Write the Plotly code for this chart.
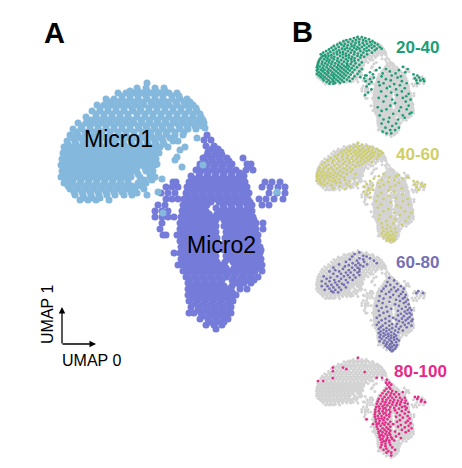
import plotly.graph_objects as go

# Every row: (UMAP y reading, [UMAP x readings]).
MICRO1_ROWS = [
 (83,[147]),(88,[137,146,155,164]),(93,[118,126,134,142,151,160,169,177]),
 (99,[106,114,122,130,138,147,155,163,172,180,187]),
 (105,[97,104,112,120,128,136,144,153,161,169,177,185,193]),
 (111,[92,100,108,116,124,133,141,149,157,165,173,181,189,197]),
 (117,[86,96,104,112,120,128,137,145,153,161,169,177,185,193,201]),
 (123,[78,86,94,102,110,118,126,134,142,150,158,166,175,183,191,199,204]),
 (129,[73,81,90,98,106,114,122,130,139,147,155,163,171,180,188,196]),
 (135,[70,78,86,94,102,110,118,126,134,142,150,158,166,175,183]),
 (141,[67,75,83,91,99,107,115,123,131,139,147,155,163,173,178]),
 (147,[64,72,80,88,96,104,112,120,128,136,144,152,160,168]),
 (153,[63,71,79,87,95,103,111,119,127,135,143,151,159]),
 (159,[62,70,78,86,94,102,110,118,126,134,142,150,156]),
 (165,[61,69,77,85,93,101,109,117,125,133,141,149,155]),
 (171,[62,70,78,86,94,102,110,118,126,134,146,153]),
 (177,[61,69,77,85,93,101,109,117,125,131,140,150,155]),
 (183,[64,72,80,88,96,104,112,120,128,138,146]),
 (189,[70,78,86,94,102,110,118,127,135,144]),
 (195,[75,83,91,99,107,115,124,132]),
 (200,[80,88,96,109]),
 (91,[130,138,147,156,165]),(96,[122,130,138,146,155,163,172,179]),
 (102,[110,118,126,134,142,151,159,167,176,184,190]),
 (108,[100,108,116,124,132,140,149,157,165,173,181,189,196]),
 (114,[96,104,112,120,128,137,145,153,161,169,177,185,193,200]),
 (120,[91,100,108,116,124,132,141,149,157,165,173,181,189,197,203]),
 (126,[82,90,98,106,114,122,130,138,146,154,162,170,179,187,195,202]),
 (132,[76,85,94,102,110,118,126,134,143,151,159,167,175,184]),
 (138,[73,81,89,97,105,113,121,129,137,145,153,161,170]),
 (144,[68,76,84,92,100,108,116,124,132,140,148,156,164]),
 (150,[68,76,84,92,100,108,116,124,132,140,148,156]),
 (156,[66,74,82,90,98,106,114,122,130,138,146,154]),
 (162,[65,73,81,89,97,105,113,121,129,137,145,152]),
 (168,[65,73,81,89,97,105,113,121,129,137,145,151]),
 (174,[65,73,81,89,97,105,113,121,129,138,150]),
 (180,[66,73,81,89,97,105,113,121,128,144,152]),
 (186,[68,76,84,92,100,108,116,124,132,141]),
 (192,[74,82,90,98,106,114,122,131]),(198,[84,92,100]),
]
MICRO1_STRAY_X = [137,147,162,157,182,175,180,185,197,205,177,158,163,203,277]
MICRO1_STRAY_Y = [193,195,179,164,167,160,150,147,138,128,157,192,213,165,192]

MICRO2_ROWS = [
 (135,[207]),(140,[204,211]),(146,[206,214]),(152,[208,216,221]),
 (158,[203,211,219,227,243]),(164,[200,208,216,224,232,247,251]),
 (170,[196,204,212,220,228,236,246,253]),
 (176,[191,199,207,215,223,231,239,244]),
 (182,[173,176,189,197,205,213,221,229,237,245,265,272,280]),
 (187,[166,172,178,187,195,203,211,219,227,235,243,247,262,270,278,285]),
 (193,[161,168,175,186,194,202,210,218,226,234,242,249,269,277,285]),
 (199,[166,172,178,184,192,200,208,216,224,232,240,248,259,266,274,283]),
 (205,[158,165,183,191,199,207,223,231,239,247,252,262,269]),
 (211,[155,162,168,182,190,198,206,220,228,236,244,252]),
 (217,[155,162,168,174,181,189,197,205,213,221,229,237,245,253]),
 (223,[162,180,188,196,204,212,228,236,244,252,256,263]),
 (229,[160,180,188,196,204,212,228,236,244,252,256,263]),
 (235,[163,166,177,181,189,197,205,213,229,237,245,253,258]),
 (241,[180,188,196,204,212,228,236,244,252,258]),
 (247,[181,189,197,205,213,221,229,237,245,253,260]),
 (253,[174,180,188,196,204,212,228,236,244,252,260]),
 (259,[181,189,197,205,213,229,237,245,253,261]),
 (265,[178,182,190,198,206,214,222,238,246,254,262]),
 (271,[183,191,199,207,215,223,231,239,247,255,262]),
 (277,[186,194,202,210,218,226,234,242,250,258]),
 (283,[188,196,204,212,220,236,244,251]),
 (289,[188,196,204,212,220,228,240,247]),
 (295,[188,196,204,212,220,228,236]),
 (301,[189,197,205,213,221,229,233]),
 (307,[191,199,207,215,223,231]),
 (313,[189,194,201,209,217,225,231]),
 (319,[200,208,216,224,228]),
 (325,[206,214,222]),(329,[216]),
 (149,[212,218]),(155,[207,214,222]),(161,[205,213,221,229]),
 (167,[200,206,214,222,230,249]),(173,[200,208,216,224,232,240]),
 (179,[194,202,210,218,226,234,242]),(185,[192,200,208,216,224,232,240]),
 (190,[190,198,206,214,222,230,238,246]),(196,[188,196,204,212,220,228,236,244]),
 (202,[187,195,203,211,219,227,235,243,250]),(208,[186,194,202,216,224,232,240,248]),
 (214,[185,193,201,209,217,225,233,241,249]),
 (220,[184,192,200,208,216,224,232,240,248,254]),
 (226,[184,192,200,208,216,224,232,240,248,254]),
 (232,[184,192,200,208,216,226,232,240,248,255]),
 (238,[184,192,200,208,217,225,233,241,249,256]),
 (244,[184,192,200,208,216,224,232,240,248,256]),
 (250,[184,192,200,208,216,224,232,240,248,256,261]),
 (256,[184,192,200,208,216,226,232,240,248,256]),
 (262,[185,193,201,209,217,225,233,241,249,257]),
 (268,[186,194,202,210,218,226,234,242,250,258]),
 (274,[188,196,204,212,220,228,236,244,252]),
 (280,[190,198,206,214,222,232,240,247,254]),
 (286,[192,200,208,216,224,232,240]),(292,[192,200,208,216,224,232]),
 (298,[193,201,209,217,225,231]),(304,[195,203,211,219,227]),
 (310,[198,205,213,221,229]),(316,[203,212,220,226]),(322,[210,218,224]),
]

BIN_20_40_ROWS = [
 (85,[146,155]),(87,[139,162]),(90,[131,150,170]),(92,[123,143,158]),(95,[117,136,164,177]),
 (97,[127,149,172]),(99,[110,142,157,182]),(101,[120,133,166]),(103,[104,113,150,175,188]),
 (105,[126,140,160]),(107,[97,118,134,170,181]),(109,[107,146,155,192]),(111,[92,124,139,165,176]),
 (113,[101,114,130,150,186,196]),(115,[87,120,144,160]),(117,[96,108,135,170,182]),
 (119,[81,126,152,165]),(121,[90,103,116,140]),(123,[75,110,132,158,176]),(125,[85,97,122,147]),
 (127,[70,104,116,139,166]),(129,[79,92,128,154]),(131,[74,86,110,122,146]),(133,[80,98,135,160]),
 (135,[71,92,116,128,152]),(137,[84,105,140]),(139,[68,77,97,122,133]),(141,[88,112,148]),
 (143,[66,82,104,126,140]),(145,[73,94,118,134]),(147,[65,87,108,155]),(149,[79,100,124,142]),
 (151,[64,72,92,114,132]),(153,[84,106,125,150]),(155,[63,76,98,118,138]),(157,[68,90,110,128]),
 (159,[62,82,103,122,145]),(161,[74,94,114,134]),(163,[64,86,106,126,155]),(165,[70,78,98,118,140]),
 (167,[62,90,110,130]),(169,[74,84,102,122,150]),(171,[66,94,114,136]),(173,[78,86,106,126]),
 (175,[62,70,98,118,146]),(177,[82,92,110,132]),(179,[66,74,102,122,162]),(181,[86,96,114,140]),
 (183,[70,78,106,128,152]),(185,[90,98,118]),(187,[74,82,110,136]),(189,[94,102,124]),
 (191,[76,86,114]),(193,[96,106,130]),(195,[82,90,118]),(197,[100,110]),(199,[88,96]),
 (158,[240]),(160,[192]),(163,[205,250]),(166,[185,232]),(169,[213]),(171,[172,245]),(174,[198,225]),
 (176,[178,262]),(179,[165,217,270]),(181,[196,236]),(184,[180,229,274]),(186,[160,265]),
 (188,[172,205,282]),(191,[215,268,276]),(193,[163,238,284]),(195,[175,190]),(198,[200,248,270]),
 (200,[170,222]),(203,[192,234]),(206,[165,213]),(210,[207,244]),(213,[175,226]),(218,[195,238]),
 (221,[168,216]),(224,[252]),(227,[162,228]),(230,[205,247]),(234,[190,240]),(238,[218,256]),
 (243,[200,246]),(247,[224]),(253,[214,252]),(257,[188,236]),(262,[206,248]),(266,[196,232]),
 (270,[258]),(273,[220,254]),(277,[192,240]),(283,[212,244]),(287,[200,230]),(293,[210]),
 (297,[196,226]),(303,[218]),(307,[204,232]),(313,[214,224]),(317,[198]),(321,[206,216]),
]
BIN_40_60_ROWS = [
 (85,[147]),(89,[140,156]),(92,[150,165]),(94,[131,143,172]),(97,[137,158,178]),(99,[124,148,168,185]),
 (101,[132,154]),(103,[118,142,162,176,190]),(105,[128,150,170,195]),(107,[112,138,158,182]),
 (109,[122,146,166,176,199]),(111,[132,154,188]),(113,[106,116,142,162,172,194]),(115,[126,150,180]),
 (117,[100,136,158,168,190]),(119,[114,146,176]),(121,[90,124,154,164]),(123,[104,134,172,186]),
 (125,[116,144,158]),(127,[84,96,128,168]),(129,[108,138,152]),(131,[120,162,176]),(133,[78,94,130,146]),
 (136,[104,116,156]),(138,[72,86,136]),(140,[98,124,150]),(142,[80,110,142]),(145,[68,92,130]),
 (147,[76,104,118]),(149,[86,136]),(151,[66,96,124]),(153,[74,110]),(155,[64,84,132]),(157,[70,100,116]),
 (159,[78,90]),(161,[63,106,124,142]),(163,[72,84,96]),(165,[66,78,112]),(167,[62,90,102]),(169,[72,84,118]),
 (171,[64,96,140]),(173,[78,108]),(175,[68,88,120]),(177,[62,100]),(179,[76,94,130]),(181,[68,110]),
 (183,[84,102]),(185,[72,124,146]),(188,[78,92]),(191,[110,130]),(195,[96]),(198,[120]),
 (160,[200]),(163,[232]),(166,[190,226]),(169,[212,250]),(172,[180,240]),(175,[196,222]),(178,[172,262]),
 (180,[210,270]),(182,[188,232]),(185,[165,278]),(187,[200,265,286]),(189,[178,224]),(191,[160,282]),
 (193,[192,214,268]),(196,[170,238]),(199,[178,272]),(201,[168,210]),(204,[160,222]),(207,[172,195]),
 (211,[165,240]),(214,[188,212]),(219,[172,226]),(222,[200,250]),(227,[185,240]),(230,[215]),(235,[195,252]),
 (238,[228]),(243,[188,236]),(247,[210]),(252,[200,244]),(256,[222,258]),(262,[192,234]),(266,[214,252]),
 (272,[190,224]),(276,[206,246]),(282,[196,220]),(286,[208,238]),(292,[198,214]),(295,[206,224]),
 (301,[200,216]),(304,[208,226]),(307,[196,220]),(310,[204,212]),(313,[216,224]),(316,[200,208]),
 (319,[212,220]),(322,[206,216,224]),(326,[212,220]),
]
BIN_60_80_ROWS = [
 (88,[150]),(92,[140]),(96,[158]),(98,[135,165]),(102,[150,172]),(105,[130,158]),(108,[145,180]),
 (111,[122,160]),(114,[136,148,186]),(117,[108,166]),(119,[128,142,152]),(122,[120,158]),(125,[96,135,146]),
 (128,[116,150]),(131,[100,128,140]),(134,[88,108,150]),(137,[122,132,146]),(140,[96,112]),(143,[126,138,150]),
 (146,[76,104,118]),(149,[90,130,142]),(152,[82,112]),(155,[98,122,136]),(158,[72,88,108]),(161,[100,126]),
 (164,[80,114]),(167,[92,104,118]),(170,[72,84]),(173,[96,108,122]),(176,[88]),(179,[78,100,112]),(182,[92]),
 (185,[96,106]),
 (150,[212]),(156,[222]),(160,[208]),(164,[228]),(167,[214]),(170,[205,236]),(173,[222]),(176,[200,242]),
 (178,[216,230]),(182,[196,226,272]),(184,[212,240]),(187,[268,282]),(189,[205,236]),(191,[220,246]),
 (194,[192,232]),(197,[214,244]),(200,[200,240]),(203,[226,250]),(206,[190,234]),(208,[212,246]),(211,[198,242]),
 (214,[224,252]),(218,[186,232]),(220,[206,246]),(223,[196,254]),(225,[216,238]),(228,[250,258]),(230,[190,230]),
 (232,[208,244]),(235,[200,254]),(237,[236,248]),(239,[258]),(241,[192,230]),(243,[212,242]),(245,[254]),
 (247,[186,220]),(249,[204,238,250]),(251,[226,260]),(253,[196,246]),(255,[212,232,258]),(258,[190,240]),
 (260,[204,252]),(262,[218,228]),(264,[186,244]),(266,[198,212,258]),(268,[226,236]),(270,[194,248]),
 (272,[206,218]),(274,[190,232]),(276,[200,212]),(278,[224,240]),(280,[194,206]),(282,[216,230]),(284,[190,200]),
 (286,[210,222]),(288,[194,204]),(290,[216,226]),(292,[200,210]),(294,[192,222]),(296,[206,216]),(298,[196,228]),
 (300,[212,222]),(302,[202,232]),(304,[192,216]),(306,[208,226]),(308,[200,218]),(311,[206,214]),(313,[222,228]),
 (315,[204,212]),(317,[218,226]),(319,[208,216]),(322,[212,224]),(325,[214,220]),(328,[218]),
]
BIN_80_100_ROWS = [
 (84,[147]),(108,[95,116]),(112,[123]),(117,[95]),(119,[161]),(134,[95]),(141,[64,75]),(133,[186,197]),(138,[207]),
 (145,[205,212]),(150,[208,216]),(156,[212]),(160,[206,214]),(165,[202,218]),(168,[210,226,240]),(171,[198,216]),
 (174,[206,222,232]),(177,[194,214]),(180,[202,226,265,272]),(182,[210,218,234,244]),(185,[190,198,270]),
 (187,[206,222,238,279]),(189,[214,230,246]),(191,[188,198,278]),(193,[204,220,236,286]),(195,[212,228,244]),
 (197,[186,194,250]),(199,[202,218,234]),(201,[208,226]),(203,[190,198,244]),(205,[185,214,238]),(207,[204,222,248]),
 (209,[192,200,232]),(211,[183,212,246]),(213,[206,224]),(215,[190,198,238]),(217,[183,214,252]),(219,[204,228]),
 (221,[192,200,244]),(223,[182,212]),(225,[206,234]),(227,[188,196,250]),(229,[182,212,226]),(231,[202,240]),
 (233,[190,196,254]),(235,[165,184,208]),(237,[200,234]),(239,[192,250]),(241,[184,214,228]),(243,[204,246]),
 (245,[190,198,256]),(247,[178,186,210,220]),(249,[202,236]),(251,[194,252]),(253,[186,214,230]),(255,[206,244]),
 (257,[198,258]),(259,[188,210]),(261,[202,238]),(263,[194,214,252]),(265,[190,206,224]),(267,[198,246]),
 (269,[190,212]),(271,[204,232]),(273,[196,214]),(275,[192,208]),(277,[200,226]),(279,[192,216]),(281,[208,236]),
 (283,[198,218]),(285,[194,206]),(287,[212,222]),(289,[200,204]),(292,[196,212]),(295,[204]),(298,[196,214]),
 (301,[204]),(304,[194,218]),(307,[206]),(310,[200,224]),(313,[210]),(317,[206,216]),(324,[216]),
]
CLUSTER_LABELS = ["Micro1", "Micro2"]
BIN_LABELS = ["20-40", "40-60", "60-80", "80-100"]


def unroll(rows):
    xs, ys = [], []
    for y, row in rows:
        for x in row:
            xs.append(x)
            ys.append(y)
    return xs, ys


m1x, m1y = unroll(MICRO1_ROWS)
m1x += MICRO1_STRAY_X
m1y += MICRO1_STRAY_Y
m2x, m2y = unroll(MICRO2_ROWS)

W, H = 462, 468
BLUE, PURPLE, GREY = "#84B8DC", "#757BD9", "#D3D3D3"
BIN_COLORS = ["#1B9E77", "#CFCF6A", "#7570B3", "#E7298A"]
BIN_DATA = [BIN_20_40_ROWS, BIN_40_60_ROWS, BIN_60_80_ROWS, BIN_80_100_ROWS]
THUMBS = [(36, 137), (142, 243), (250, 352), (357, 458)]
LABEL_Y = [47, 154, 262, 371]
LABEL_X = [417, 417, 417, 420]
FONT = "Liberation Sans"

fig = go.Figure()
fig.add_trace(go.Scatter(x=m2x, y=m2y, mode="markers", cliponaxis=False,
                         marker=dict(size=7, color=PURPLE), hoverinfo="skip"))
fig.add_trace(go.Scatter(x=m1x, y=m1y, mode="markers", cliponaxis=False,
                         marker=dict(size=7, color=BLUE), hoverinfo="skip"))

hidden = dict(visible=False, fixedrange=True)
layout = dict(
    width=W, height=H, margin=dict(l=0, r=0, t=0, b=0), autosize=False,
    paper_bgcolor="white", plot_bgcolor="rgba(0,0,0,0)", showlegend=False,
    xaxis=dict(range=[0, W], domain=[0, 1], **hidden),
    yaxis=dict(range=[H, 0], domain=[0, 1], **hidden),
)

for i, (top, bottom) in enumerate(THUMBS):
    n = i + 2
    xa, ya = f"x{n}", f"y{n}"
    layout[f"xaxis{n}"] = dict(range=[58, 288], domain=[315 / W, 426 / W], anchor=ya, **hidden)
    layout[f"yaxis{n}"] = dict(range=[330, 82], domain=[1 - bottom / H, 1 - top / H], anchor=xa, **hidden)
    fig.add_trace(go.Scatter(x=m1x + m2x, y=m1y + m2y, xaxis=xa, yaxis=ya, mode="markers",
                             cliponaxis=False, marker=dict(size=3, color=GREY), hoverinfo="skip"))
    bx, by = unroll(BIN_DATA[i])
    fig.add_trace(go.Scatter(x=bx, y=by, xaxis=xa, yaxis=ya, mode="markers",
                             cliponaxis=False, marker=dict(size=2.7, color=BIN_COLORS[i]), hoverinfo="skip"))

notes = [
    dict(x=54, y=33, text="<b>A</b>", font=dict(size=29, color="black", family=FONT)),
    dict(x=302, y=32, text="<b>B</b>", font=dict(size=29, color="black", family=FONT)),
    dict(x=118, y=139, text=CLUSTER_LABELS[0], font=dict(size=23, color="black", family=FONT)),
    dict(x=221, y=245, text=CLUSTER_LABELS[1], font=dict(size=23, color="black", family=FONT)),
    dict(x=91, y=360, text="UMAP 0", font=dict(size=16, color="black", family=FONT)),
    dict(x=47, y=315, text="UMAP 1", textangle=-90, font=dict(size=16, color="black", family=FONT)),
]
for lab, col, lx, ly in zip(BIN_LABELS, BIN_COLORS, LABEL_X, LABEL_Y):
    notes.append(dict(x=lx, y=ly, text=f"<b>{lab}</b>", font=dict(size=17, color=col, family=FONT)))
notes = [dict(n, xref="x", yref="y", showarrow=False, xanchor="center", yanchor="middle") for n in notes]
for ax, ay, x, y in [(62, 345, 62, 307), (61, 344, 96, 344)]:
    notes.append(dict(x=x, y=y, ax=ax, ay=ay, xref="x", yref="y", axref="x", ayref="y", text="",
                      showarrow=True, arrowhead=2, arrowsize=1, arrowwidth=1.3, arrowcolor="black"))
layout["annotations"] = notes
fig.update_layout(**layout)
fig.write_html("out.html", config={"displayModeBar": False},
               post_script="document.body.style.margin='0';document.body.style.overflow='hidden';")
